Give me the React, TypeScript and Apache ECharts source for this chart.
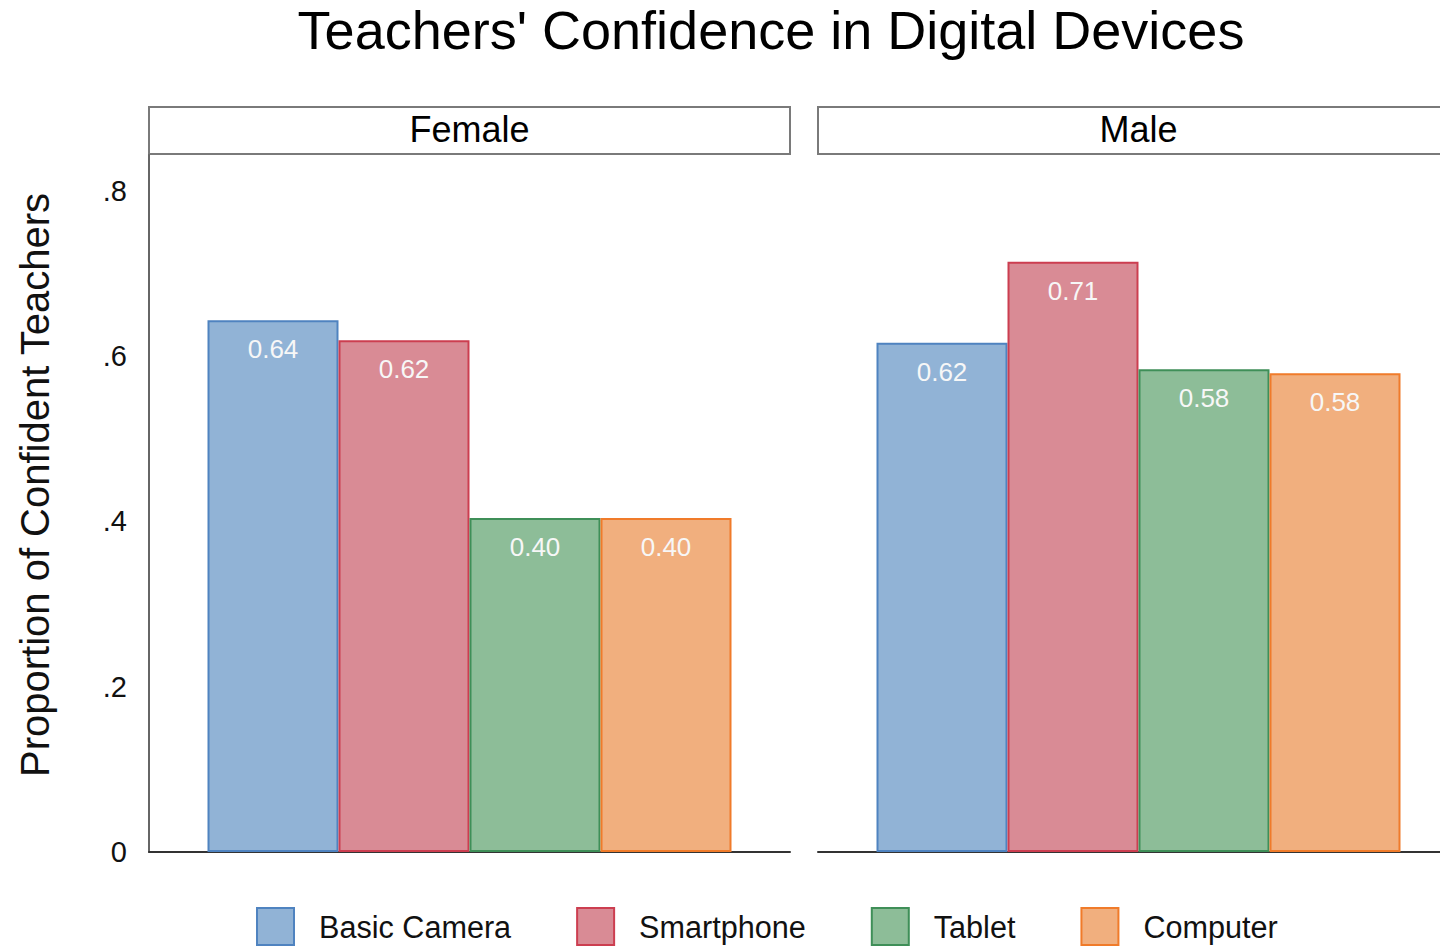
import React, { useEffect, useRef } from "react";
import * as echarts from "echarts";

const panels = ["Female", "Male"];
const devices = ["Basic Camera", "Smartphone", "Tablet", "Computer"];
const femaleValues = [0.643, 0.619, 0.404, 0.404];
const maleValues = [0.616, 0.714, 0.584, 0.579];
const yTicks = [0, 0.2, 0.4, 0.6, 0.8];
const fillColors = ["#91b3d6", "#d98b95", "#8dbd98", "#f1af7e"];
const borderColors = ["#4f83c0", "#cc3e50", "#3f8f58", "#f07b2a"];

const FONT = "'Liberation Sans', Arial, sans-serif";

export default function App() {
  const ref = useRef<HTMLDivElement>(null);
  useEffect(() => {
    document.body.style.margin = "0";
    const chart = echarts.init(ref.current!, null, { renderer: "svg" });
    const panelValues = [femaleValues, maleValues];
    const gridLefts = [149, 818];
    const gridW = 641;
    const gridTop = 155;
    const gridH = 697;

    const series: any[] = [];
    panelValues.forEach((vals, p) => {
      devices.forEach((d, i) => {
        series.push({
          type: "bar",
          name: d,
          xAxisIndex: p,
          yAxisIndex: p,
          data: [vals[i]],
          barGap: "0%",
          barWidth: 131,
          itemStyle: {
            color: fillColors[i],
            borderColor: borderColors[i],
            borderWidth: 2,
          },
          label: {
            show: true,
            position: "insideTop",
            distance: 16,
            color: "#f7f7f7",
            fontSize: 26,
            fontFamily: FONT,
            formatter: (pr: any) => Number(pr.value).toFixed(2),
          },
        });
      });
    });

    const graphic: any[] = [
      {
        type: "text",
        x: 771,
        y: 30,
        style: {
          text: "Teachers' Confidence in Digital Devices",
          fontSize: 54,
          fontFamily: FONT,
          fill: "#000",
          textAlign: "center",
          textVerticalAlign: "middle",
        },
      },
      {
        type: "text",
        x: 35,
        y: 485,
        rotation: Math.PI / 2,
        style: {
          text: "Proportion of Confident Teachers",
          fontSize: 40,
          fontFamily: FONT,
          fill: "#111",
          textAlign: "center",
          textVerticalAlign: "middle",
        },
      },
    ];
    panels.forEach((name, p) => {
      graphic.push({
        type: "rect",
        shape: { x: gridLefts[p], y: 107, width: gridW, height: 47 },
        style: { fill: "#fff", stroke: "#7a7a7a", lineWidth: 2 },
      });
      graphic.push({
        type: "text",
        x: gridLefts[p] + gridW / 2,
        y: 129,
        style: {
          text: name,
          fontSize: 36,
          fontFamily: FONT,
          fill: "#000",
          textAlign: "center",
          textVerticalAlign: "middle",
        },
      });
    });

    chart.setOption({
      animation: false,
      backgroundColor: "#fff",
      grid: gridLefts.map((l) => ({
        left: l,
        top: gridTop,
        width: gridW,
        height: gridH,
        outerBoundsMode: "none",
        containLabel: false,
      })),
      xAxis: panels.map((name, p) => ({
        type: "category",
        gridIndex: p,
        data: [name],
        axisLine: { show: true, lineStyle: { color: "#333", width: 2 } },
        axisTick: { show: false },
        axisLabel: { show: false },
      })),
      yAxis: panels.map((_, p) => ({
        type: "value",
        gridIndex: p,
        min: 0,
        max: 0.843,
        interval: 0.2,
        axisLine: { show: p === 0, lineStyle: { color: "#666", width: 2 } },
        axisTick: { show: false },
        splitLine: { show: false },
        axisLabel: {
          show: p === 0,
          showMaxLabel: false,
          margin: 22,
          fontSize: 29,
          fontFamily: FONT,
          color: "#111",
          formatter: (v: number) => {
            const t = yTicks.find((y) => Math.abs(y - v) < 1e-6);
            if (t === undefined) return "";
            return t === 0 ? "0" : String(t).replace(/^0/, "");
          },
        },
      })),
      legend: {
        data: devices,
        left: 251,
        top: 902,
        icon: "rect",
        itemWidth: 37,
        itemHeight: 37,
        itemGap: 65,
        textStyle: {
          fontSize: 30.6,
          fontFamily: FONT,
          color: "#111",
          padding: [0, 0, 0, 20],
        },
      },
      series,
      graphic,
    });
    return () => chart.dispose();
  }, []);
  return (
    <div
      ref={ref}
      style={{ position: "absolute", left: 0, top: 0, width: 1440, height: 947 }}
    />
  );
}
